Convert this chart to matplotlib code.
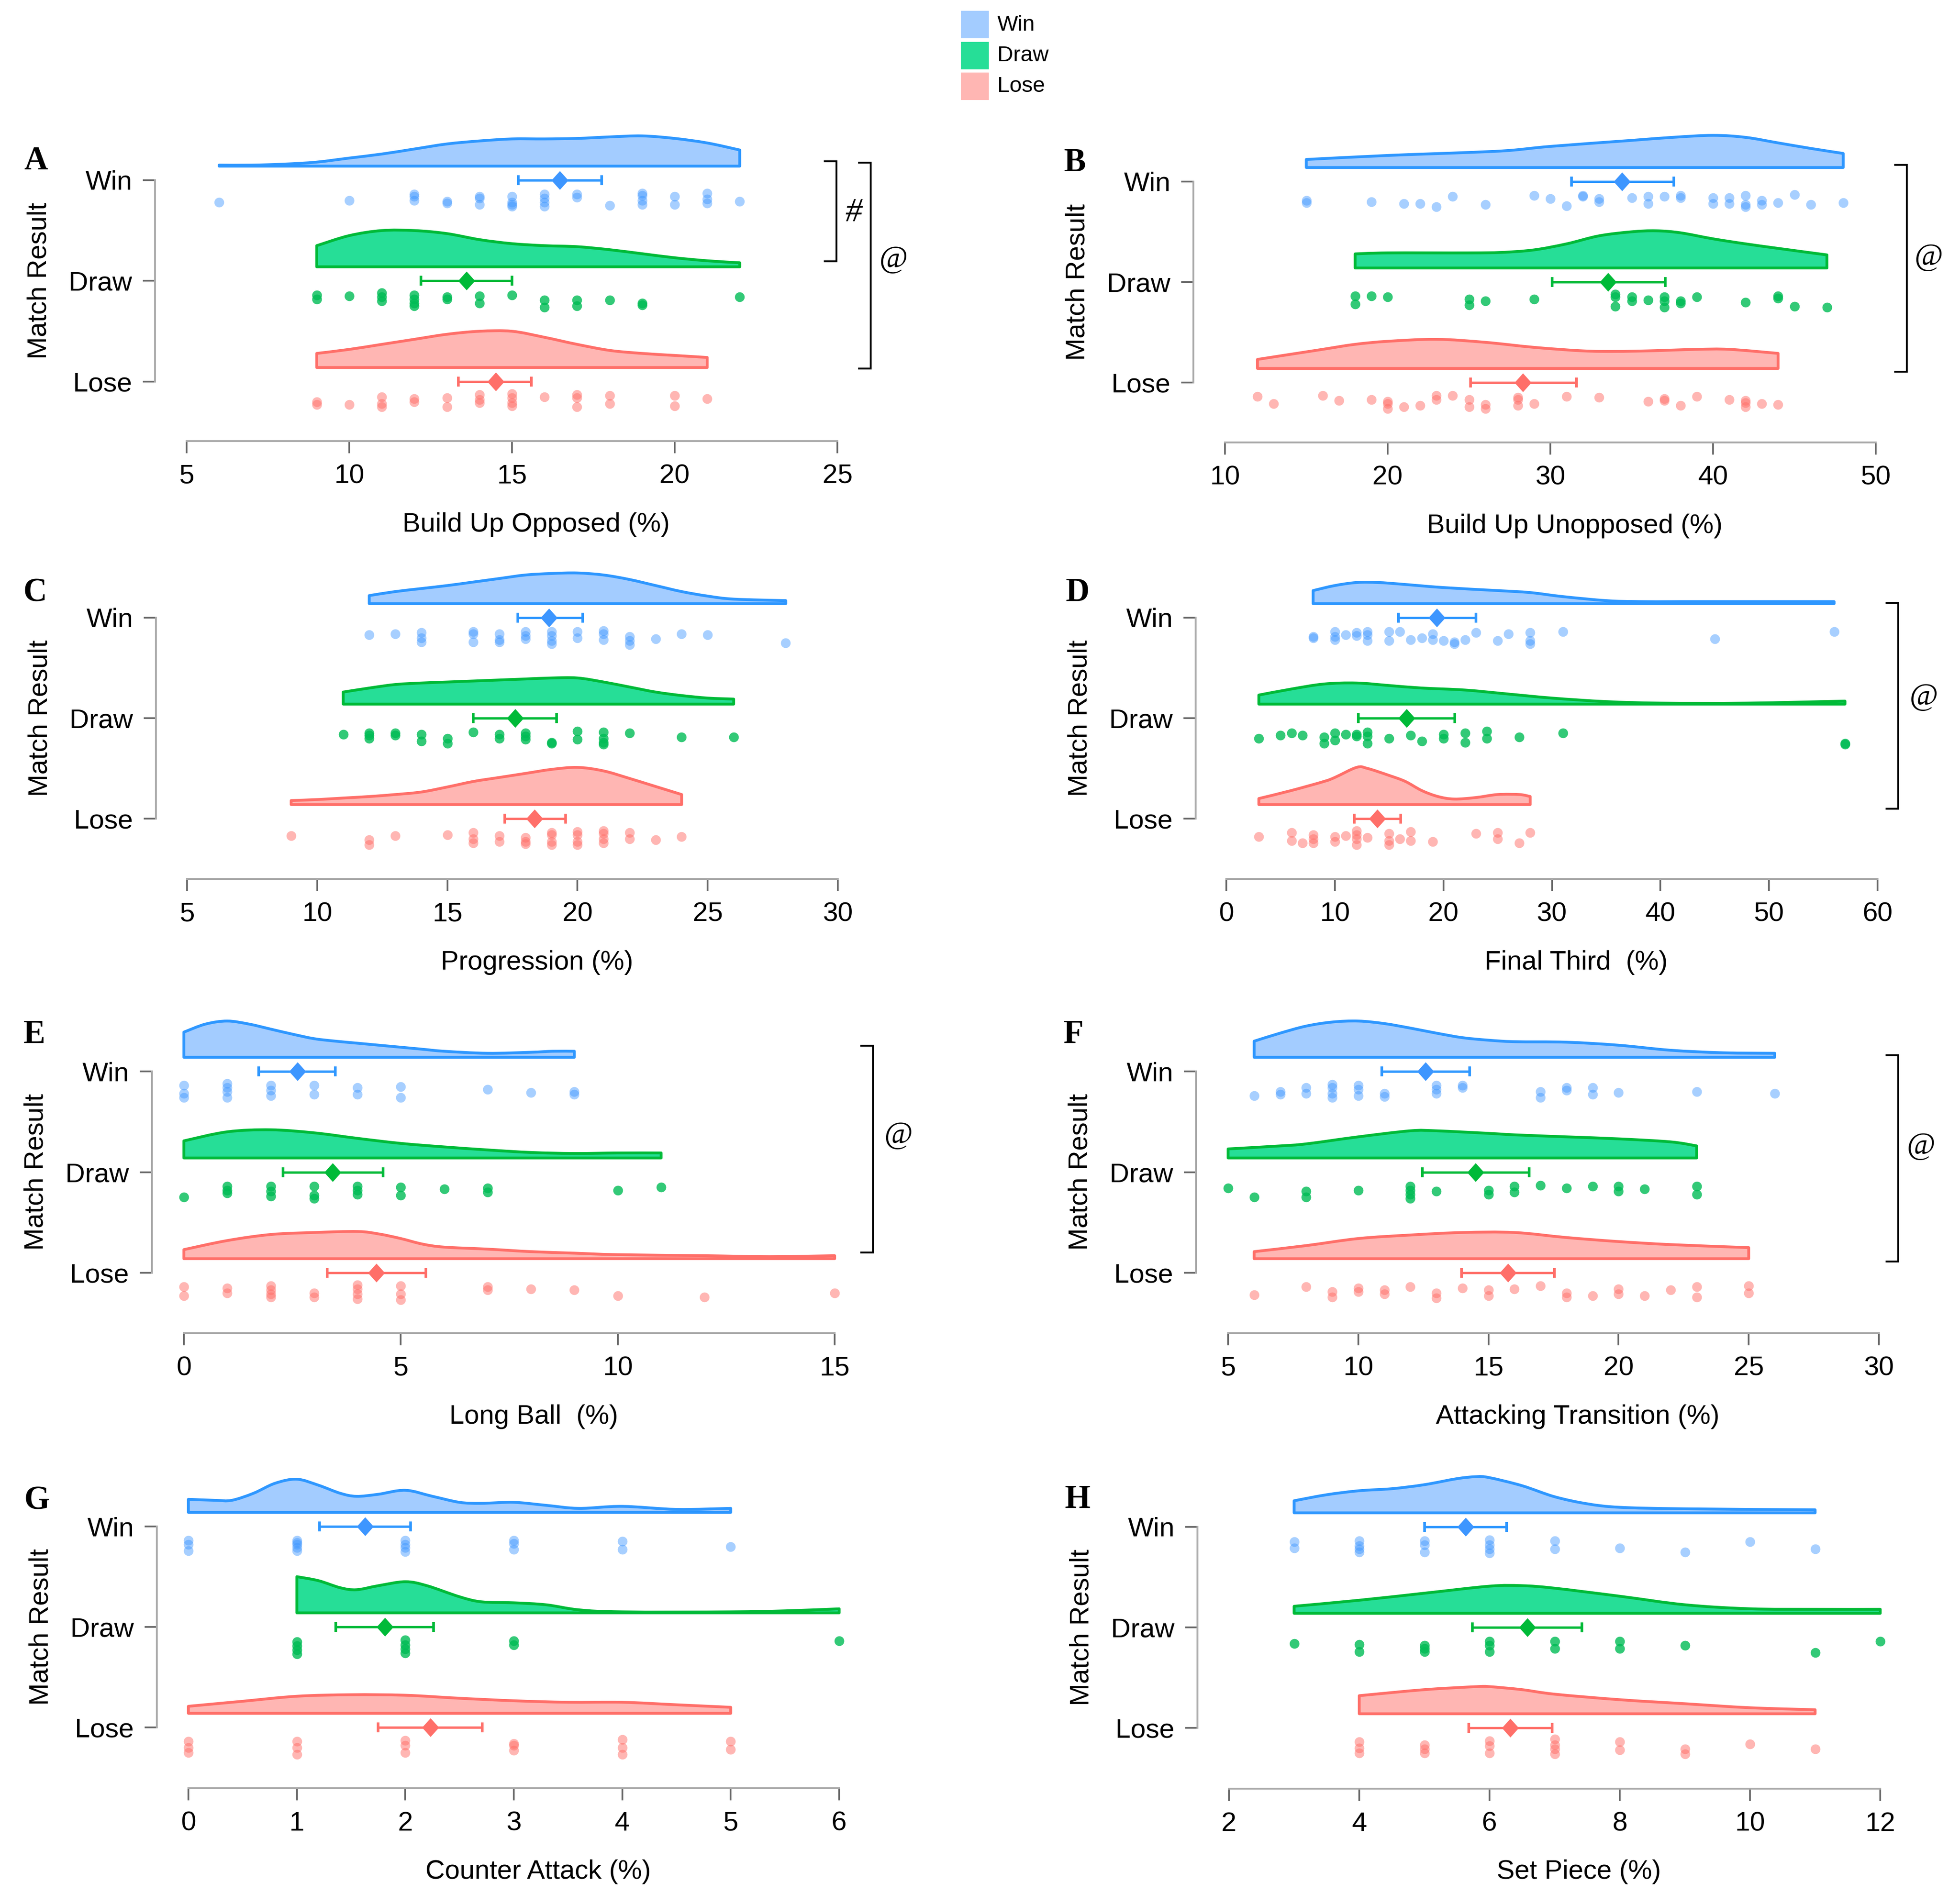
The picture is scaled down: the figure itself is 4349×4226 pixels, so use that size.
import matplotlib
matplotlib.use('Agg')
import matplotlib.pyplot as plt
from matplotlib.lines import Line2D
from matplotlib.patches import PathPatch, Rectangle
from matplotlib.path import Path

W, H = 4349, 4226
plt.rcParams['font.family'] = ['Liberation Sans', 'DejaVu Sans']

groups = ['Win', 'Draw', 'Lose']
fills = ['#A3CCFF', '#26DE97', '#FFB6B3']
lines = ['#2E97FF', '#00BA38', '#FF6F69']
dots = ['#3D96FF', '#00BC55', '#FF6F69']
dot_alpha = [0.45, 0.8, 0.5]

# --- A: Build Up Opposed
A_win_x = [6, 10, 12, 12, 12, 13, 13, 14, 14, 14, 15, 15, 15, 15, 16, 16, 16, 16, 17, 17, 18, 19, 19, 19, 19, 20, 20, 21, 21, 21, 22]
A_win_j = [22, 20, 14, 16, 20, 21, 23, 16, 18, 24, 16, 22, 24, 26, 14, 18, 22, 26, 14, 17, 25, 13, 15, 20, 24, 16, 24, 13, 19, 23, 21]
A_draw_x = [9, 9, 10, 11, 11, 11, 12, 12, 12, 12, 13, 13, 14, 14, 15, 16, 16, 17, 17, 18, 19, 19, 22]
A_draw_j = [14, 18, 15, 12, 16, 20, 14, 18, 22, 25, 16, 18, 15, 22, 14, 19, 26, 19, 25, 19, 22, 24, 16]
A_lose_x = [9, 9, 10, 11, 11, 11, 12, 12, 13, 13, 14, 14, 14, 15, 15, 15, 15, 16, 17, 17, 17, 18, 18, 20, 20, 21]
A_lose_j = [20, 23, 23, 15, 22, 25, 17, 20, 16, 25, 13, 18, 21, 12, 16, 21, 24, 15, 13, 16, 25, 14, 22, 14, 24, 17]
A_win_dx = [6, 7, 8, 9, 10, 11, 12, 13, 14, 15, 16, 17, 18, 19, 20, 21, 22]
A_win_dh = [1, 1, 2, 4, 8, 12, 17, 22, 25, 27, 27, 27.5, 29, 30, 27.5, 23, 16]
A_draw_dx = [9, 10, 11, 12, 13, 14, 15, 16, 17, 18, 19, 20, 21, 22]
A_draw_dh = [21, 31, 36, 36, 33, 27, 23, 21, 20, 17, 13, 9, 6, 4]
A_lose_dx = [9, 10, 11, 12, 13, 14, 15, 16, 17, 18, 19, 20, 21]
A_lose_dh = [14, 18, 23, 28, 33, 36, 36, 30, 23, 17, 14, 12, 10]
A_mean = [16.47, 13.6, 14.5]
A_lo = [15.2, 12.2, 13.35]
A_hi = [17.75, 15.0, 15.6]

# --- B: Build Up Unopposed
B_win_x = [15, 15, 19, 21, 22, 23, 24, 26, 29, 30, 31, 32, 32, 33, 33, 35, 36, 36, 37, 38, 38, 40, 40, 41, 41, 42, 42, 42, 43, 43, 44, 45, 46, 48]
B_win_j = [19, 21, 20, 22, 22, 25, 15, 23, 14, 17, 24, 14, 15, 17, 20, 16, 15, 22, 15, 14, 16, 16, 22, 16, 22, 14, 23, 25, 19, 23, 21, 13, 23, 21]
B_draw_x = [18, 18, 19, 20, 25, 25, 26, 29, 34, 34, 34, 35, 35, 36, 37, 37, 37, 38, 38, 39, 42, 44, 44, 45, 47]
B_draw_j = [14, 22, 14, 15, 17, 23, 19, 17, 12, 15, 24, 15, 19, 18, 15, 19, 25, 19, 21, 15, 20, 14, 16, 24, 25]
B_lose_x = [12, 13, 16, 17, 19, 20, 20, 20, 21, 22, 23, 23, 24, 25, 25, 26, 26, 28, 28, 28, 29, 31, 33, 36, 37, 37, 38, 39, 41, 42, 42, 42, 43, 44]
B_lose_j = [14, 21, 13, 18, 17, 19, 21, 26, 24, 23, 13, 17, 13, 17, 24, 22, 26, 15, 17, 23, 21, 14, 15, 19, 16, 18, 23, 14, 17, 18, 20, 24, 21, 22]
B_win_dx = [15, 20, 25, 27.5, 30, 35, 37.5, 40, 42, 44, 46, 48]
B_win_dh = [8, 12, 15, 17, 21, 27, 30, 32, 30, 24.5, 19, 14]
B_draw_dx = [18, 20, 25, 27, 29, 31, 33, 35, 36.5, 38, 40, 42, 44, 47]
B_draw_dh = [14, 15, 15, 15.5, 18, 24, 32, 36, 37, 35, 29, 24, 19.5, 13]
B_lose_dx = [12, 14, 16, 18, 20, 23, 26, 29, 32, 34, 36, 39, 41, 44]
B_lose_dh = [9, 14, 19, 24, 27, 29, 26, 21, 17.5, 17, 17.5, 19, 19, 15]
B_mean = [34.4, 33.55, 28.3]
B_lo = [31.3, 30.1, 25.1]
B_hi = [37.6, 37.05, 31.6]

# --- C: Progression
C_win_x = [12, 13, 14, 14, 14, 16, 16, 16, 17, 17, 17, 18, 18, 18, 19, 19, 19, 19, 20, 20, 21, 21, 21, 22, 22, 22, 23, 24, 25, 28]
C_win_j = [17, 16, 15, 20, 24, 14, 16, 24, 16, 22, 24, 14, 18, 21, 14, 18, 23, 26, 14, 20, 13, 16, 22, 19, 23, 27, 21, 16, 17, 25]
C_draw_x = [11, 12, 12, 12, 13, 13, 14, 14, 15, 15, 16, 17, 17, 18, 18, 18, 19, 19, 20, 20, 21, 21, 21, 21, 22, 24, 26]
C_draw_j = [16, 15, 17, 20, 15, 17, 16, 23, 20, 25, 14, 16, 20, 15, 18, 21, 24, 25, 13, 21, 14, 20, 24, 26, 15, 19, 19]
C_lose_x = [9, 12, 12, 13, 15, 16, 16, 16, 17, 17, 18, 18, 18, 19, 19, 19, 19, 20, 20, 20, 20, 21, 21, 21, 21, 22, 22, 23, 24]
C_lose_j = [17, 21, 26, 17, 16, 14, 20, 24, 17, 23, 19, 23, 25, 14, 16, 23, 26, 13, 16, 23, 26, 12, 15, 20, 24, 14, 20, 21, 18]
C_win_dx = [12, 13, 14, 15, 16, 17, 18, 19, 20, 21, 22, 23, 24, 25, 26, 28]
C_win_dh = [8, 12, 15, 18, 21.5, 25, 28.5, 30, 30.5, 28.5, 24, 18, 12, 7.5, 4.5, 3]
C_draw_dx = [11, 12, 13, 14, 15, 16, 17, 18, 19, 20, 21, 22, 23, 24, 25, 26]
C_draw_dh = [12, 16, 19.5, 21, 22, 23, 24, 25, 26, 26, 22, 17, 12, 8.5, 6, 5]
C_lose_dx = [9, 10, 11, 12, 13, 14, 15, 16, 17, 18, 19, 20, 21, 22, 23, 24]
C_lose_dh = [4, 5, 6.5, 8, 10, 12.5, 17.5, 23, 27, 31, 35, 37, 33.5, 26, 18, 10]
C_mean = [18.9, 17.6, 18.35]
C_lo = [17.7, 16.0, 17.2]
C_hi = [20.2, 19.2, 19.55]

# --- D: Final Third
D_win_x = [8, 8, 10, 10, 10, 11, 12, 12, 13, 13, 13, 15, 15, 16, 17, 18, 19, 19, 20, 21, 21, 22, 23, 25, 26, 28, 28, 28, 31, 45, 56]
D_win_j = [19, 20, 14, 19, 22, 17, 15, 18, 14, 17, 23, 14, 23, 14, 22, 20, 16, 22, 23, 24, 26, 22, 15, 23, 16, 15, 23, 26, 14, 21, 14]
D_draw_x = [3, 5, 6, 7, 9, 9, 10, 10, 11, 12, 12, 13, 13, 13, 15, 17, 18, 20, 20, 22, 22, 24, 24, 27, 31, 57, 57]
D_draw_j = [20, 17, 15, 17, 19, 25, 15, 22, 16, 16, 18, 14, 18, 25, 20, 17, 23, 16, 20, 15, 24, 13, 20, 19, 15, 25, 26]
D_lose_x = [3, 6, 6, 7, 8, 8, 8, 10, 10, 11, 12, 12, 12, 12, 13, 15, 15, 15, 16, 17, 17, 19, 23, 25, 25, 27, 28]
D_lose_j = [18, 14, 22, 24, 16, 20, 24, 18, 23, 17, 12, 16, 20, 26, 19, 15, 22, 26, 20, 13, 22, 23, 15, 14, 20, 24, 14]
D_win_dx = [8, 10, 12, 14, 16, 20, 25, 28, 31, 35, 38, 42, 50, 56]
D_win_dh = [13, 18, 21, 21, 19.5, 16, 13, 11, 7, 3, 2, 2, 2, 2]
D_draw_dx = [3, 6, 9, 12, 15, 18, 22, 26, 30, 35, 40, 48, 57]
D_draw_dh = [9, 15, 20, 21, 18.5, 16, 14, 10, 6, 2.5, 1, 1, 3]
D_lose_dx = [3, 6, 9, 10, 12, 13, 15, 16.5, 18, 19.5, 21, 23, 25, 27, 28]
D_lose_dh = [6, 14, 23, 27, 37, 36, 29, 23, 14, 8, 5.5, 7, 10, 10, 8]
D_mean = [19.4, 16.6, 13.9]
D_lo = [15.85, 12.15, 11.8]
D_hi = [23.0, 21.05, 16.05]

# --- E: Long Ball
E_win_x = [0, 0, 0, 1, 1, 1, 1, 2, 2, 2, 3, 3, 4, 4, 5, 5, 7, 8, 9, 9]
E_win_j = [14, 22, 26, 12, 16, 20, 26, 14, 19, 24, 14, 23, 16, 23, 15, 26, 18, 21, 20, 23]
E_draw_x = [0, 1, 1, 1, 2, 2, 2, 3, 3, 3, 4, 4, 4, 5, 5, 6, 7, 7, 10, 11]
E_draw_j = [25, 14, 18, 21, 14, 19, 24, 14, 23, 26, 14, 18, 22, 15, 23, 17, 16, 20, 18, 15]
E_lose_x = [0, 0, 1, 1, 2, 2, 2, 2, 3, 3, 4, 4, 4, 4, 5, 5, 5, 7, 7, 8, 9, 10, 12, 15]
E_lose_j = [14, 23, 15, 20, 13, 17, 21, 24, 20, 24, 12, 16, 21, 26, 13, 21, 27, 14, 17, 16, 17, 23, 24, 20]
E_win_dx = [0, 0.5, 1, 1.5, 2, 2.5, 3, 3.5, 4, 4.5, 5, 5.5, 6, 7, 8, 8.5, 9]
E_win_dh = [25, 33, 36, 33, 28, 23, 18.5, 16, 14, 12, 10, 8, 6, 4, 5, 6, 6]
E_draw_dx = [0, 1, 2, 3, 4, 5, 6, 7, 8, 9, 10, 11]
E_draw_dh = [17, 26, 28, 25, 19.5, 14.5, 11, 8, 5.5, 4.5, 5, 5]
E_lose_dx = [0, 1, 2, 3, 4, 4.5, 5, 5.5, 6, 7, 8, 9, 10, 12, 13.5, 15]
E_lose_dh = [9, 18, 24, 26, 27, 24.5, 20, 14.5, 11.5, 9.5, 7, 5.5, 4, 3, 2, 3]
E_mean = [2.62, 3.43, 4.44]
E_lo = [1.72, 2.29, 3.3]
E_hi = [3.49, 4.59, 5.58]

# --- F: Attacking Transition
F_win_x = [6, 7, 7, 8, 8, 9, 9, 9, 9, 10, 10, 10, 11, 11, 13, 13, 13, 14, 14, 17, 17, 18, 18, 19, 19, 20, 23, 26]
F_win_j = [24, 20, 23, 16, 22, 13, 16, 22, 26, 14, 18, 24, 22, 25, 14, 18, 22, 14, 16, 20, 26, 16, 19, 16, 23, 21, 20, 22]
F_draw_x = [5, 6, 8, 8, 10, 12, 12, 12, 12, 13, 15, 15, 16, 16, 17, 18, 19, 20, 20, 21, 23, 23]
F_draw_j = [16, 25, 19, 25, 18, 14, 18, 22, 26, 19, 18, 22, 14, 20, 13, 16, 14, 14, 19, 17, 14, 22]
F_lose_x = [6, 8, 9, 9, 10, 10, 11, 11, 12, 13, 13, 14, 15, 15, 16, 17, 18, 18, 19, 20, 20, 21, 22, 23, 23, 25, 25]
F_lose_j = [22, 14, 19, 24, 15, 19, 17, 21, 14, 20, 25, 15, 17, 23, 16, 13, 20, 24, 23, 16, 21, 23, 17, 14, 24, 13, 20]
F_win_dx = [6, 7, 8, 9, 10, 11, 12, 13, 14, 15, 16, 18, 20, 22, 24, 26]
F_win_dh = [16, 24, 31, 35, 36, 33.5, 29, 24, 19.5, 17, 15.5, 15, 12, 7, 4.5, 4]
F_draw_dx = [5, 7, 8, 10, 12, 13, 15, 16, 18, 20, 22, 23]
F_draw_dh = [9, 12, 14, 21, 27, 27, 24.5, 23, 21, 19, 16, 12]
F_lose_dx = [6, 8, 10, 12, 14, 16, 18, 20, 22, 25]
F_lose_dh = [7, 13, 20, 23.5, 26, 26, 21, 17, 14, 11]
F_mean = [12.58, 14.5, 15.75]
F_lo = [10.9, 12.47, 13.96]
F_hi = [14.28, 16.56, 17.53]

# --- G: Counter Attack
G_win_x = [0, 0, 0, 1, 1, 1, 1, 1, 2, 2, 2, 2, 3, 3, 3, 4, 4, 5]
G_win_j = [14, 18, 24, 14, 16, 18, 21, 24, 14, 18, 21, 25, 14, 17, 23, 15, 23, 20]
G_draw_x = [1, 1, 1, 1, 2, 2, 2, 2, 3, 3, 6]
G_draw_j = [15, 19, 23, 27, 13, 18, 22, 26, 14, 18, 14]
G_lose_x = [0, 0, 0, 1, 1, 1, 2, 2, 2, 3, 3, 3, 4, 4, 4, 5, 5]
G_lose_j = [14, 20, 25, 14, 20, 27, 13, 18, 25, 16, 18, 23, 12, 20, 27, 14, 22]
G_win_dx = [0, 0.25, 0.4, 0.6, 0.8, 1, 1.2, 1.4, 1.55, 1.75, 2, 2.25, 2.5, 2.7, 3, 3.3, 3.6, 4, 4.5, 5]
G_win_dh = [13, 12, 12, 19, 29, 33, 27, 19, 16, 18, 22, 16, 10, 9, 10, 7, 4, 6, 3, 4]
G_draw_dx = [1, 1.2, 1.4, 1.55, 1.75, 2, 2.2, 2.5, 2.7, 3, 3.3, 3.6, 4, 5, 5.5, 6]
G_draw_dh = [36, 32, 25, 23, 27, 31, 27, 16, 11, 10, 8, 3, 1, 1, 2, 4]
G_lose_dx = [0, 0.5, 1, 1.5, 2, 2.5, 3, 3.5, 4, 4.5, 5]
G_lose_dh = [7, 12, 17, 18.5, 18, 15, 12.5, 11, 11, 8.5, 6]
G_mean = [1.63, 1.81, 2.23]
G_lo = [1.21, 1.36, 1.75]
G_hi = [2.05, 2.26, 2.71]

# --- H: Set Piece
H_win_x = [3, 3, 4, 4, 4, 4, 5, 5, 5, 6, 6, 6, 6, 7, 7, 8, 9, 10, 11]
H_win_j = [15, 21, 14, 19, 22, 25, 14, 18, 25, 13, 18, 22, 26, 14, 22, 21, 25, 15, 22]
H_draw_x = [3, 4, 4, 5, 5, 5, 6, 6, 6, 7, 7, 8, 8, 9, 11, 12]
H_draw_j = [16, 17, 24, 18, 21, 24, 14, 18, 24, 14, 21, 14, 21, 18, 25, 14]
H_lose_x = [4, 4, 4, 5, 5, 5, 6, 6, 6, 7, 7, 7, 7, 8, 8, 9, 9, 10, 11]
H_lose_j = [14, 20, 25, 17, 21, 25, 13, 18, 25, 11, 17, 21, 26, 14, 22, 21, 26, 16, 21]
H_win_dx = [3, 3.5, 4, 4.5, 5, 5.5, 5.8, 6, 6.5, 7, 7.5, 8, 9, 11]
H_win_dh = [12, 18, 22, 24, 28, 34, 36, 35, 27, 16, 9, 5.5, 4, 3]
H_draw_dx = [3, 4, 5, 6, 6.5, 7, 8, 9, 10, 11, 12]
H_draw_dh = [7, 13, 20, 27, 27.5, 25, 17, 8.5, 4.5, 4, 4]
H_lose_dx = [4, 5, 5.8, 6, 6.5, 7, 8, 9, 10, 11]
H_lose_dh = [18, 24, 27, 27, 24, 19.5, 14, 10, 6, 4]
H_mean = [5.63, 6.58, 6.32]
H_lo = [5.0, 5.74, 5.68]
H_hi = [6.26, 7.42, 6.96]

titles = ['Build Up Opposed (%)', 'Build Up Unopposed (%)', 'Progression (%)', 'Final Third  (%)',
          'Long Ball  (%)', 'Attacking Transition (%)', 'Counter Attack (%)', 'Set Piece (%)']
xticks = [[5, 10, 15, 20, 25], [10, 20, 30, 40, 50], [5, 10, 15, 20, 25, 30], [0, 10, 20, 30, 40, 50, 60],
          [0, 5, 10, 15], [5, 10, 15, 20, 25, 30], [0, 1, 2, 3, 4, 5, 6], [2, 4, 6, 8, 10, 12]]

# per panel: letter, left tick px, right tick px, win tick px, lose tick px, x axis px, y spine px, letter pos
layout = [
    ('A', 414, 1858, 400, 847, 979, 344, 80, 358),
    ('B', 2718, 4162, 403, 849, 982, 2648, 2385, 362),
    ('C', 415, 1859, 1371, 1817, 1951, 346, 78, 1316),
    ('D', 2721, 4166, 1371, 1817, 1951, 2653, 2391, 1316),
    ('E', 408, 1852, 2378, 2825, 2959, 337, 76, 2297),
    ('F', 2725, 4169, 2378, 2825, 2959, 2654, 2382, 2297),
    ('G', 418, 1862, 3388, 3834, 3969, 348, 82, 3332),
    ('H', 2727, 4172, 3389, 3835, 3970, 2657, 2391, 3329),
]

# bracket x, top, bottom, symbol, symbol x, symbol y, symbol size
brackets = [
    (1856, 358, 580, '#', 1894, 473, 18),
    (1932, 361, 818, '@', 1983, 577, 16.5),
    (4231, 366, 825, '@', 4280, 572, 16.5),
    (4212, 1338, 1795, '@', 4269, 1548, 16.5),
    (1937, 2321, 2780, '@', 1994, 2521, 16.5),
    (4212, 2342, 2800, '@', 4263, 2545, 16.5),
]

legend_y = [24, 93, 161]


def fx(px):
    return px / W


def fy(py):
    return 1 - py / H


def curve_path(xs, hs, base):
    # smooth line through the values, closed along the baseline
    pts = [(x, base + h / 100) for x, h in zip(xs, hs)]
    verts = [(xs[0], base), pts[0]]
    codes = [Path.MOVETO, Path.LINETO]
    for i in range(len(pts) - 1):
        p0 = pts[max(i - 1, 0)]
        p1 = pts[i]
        p2 = pts[i + 1]
        p3 = pts[min(i + 2, len(pts) - 1)]
        c1 = (p1[0] + (p2[0] - p0[0]) / 6, p1[1] + (p2[1] - p0[1]) / 6)
        c2 = (p2[0] - (p3[0] - p1[0]) / 6, p2[1] - (p3[1] - p1[1]) / 6)
        verts += [c1, c2, p2]
        codes += [Path.CURVE4] * 3
    verts += [(xs[-1], base), (xs[0], base)]
    codes += [Path.LINETO, Path.CLOSEPOLY]
    return Path(verts, codes)


def draw_panel(fig, idx, series, mean, lo, hi):
    letter, x0, x1, win, lose, axis, spine, lx, ly = layout[idx]
    unit = (lose - win) / 2
    top = win - 140
    ax = fig.add_axes([fx(x0), fy(axis), (x1 - x0) / W, (axis - top) / H])
    ticks = xticks[idx]
    ax.set_xlim(ticks[0], ticks[-1])
    ax.set_ylim(1 - (axis - lose) / unit, 3 + (win - top) / unit)
    ax.patch.set_alpha(0)

    for i, (x, j, dx, dh) in enumerate(series):
        y = 3 - i
        ax.add_patch(PathPatch(curve_path(dx, dh, y + 0.14), facecolor=fills[i], edgecolor=lines[i],
                               lw=1.5, joinstyle='round', clip_on=False, zorder=2))
        ax.errorbar(mean[i], y, xerr=[[mean[i] - lo[i]], [hi[i] - mean[i]]], color=lines[i], lw=1.25,
                    capsize=2.7, capthick=1.4, clip_on=False, zorder=3)
        ax.plot(mean[i], y, marker=[(0, 1), (0.9, 0), (0, -1), (-0.9, 0)], ms=10, color=dots[i] if i != 1 else lines[i],
                mew=0, clip_on=False, zorder=4)
        ax.scatter(x, [y - v / 100 for v in j], s=27, color=dots[i], alpha=dot_alpha[i], lw=0,
                   clip_on=False, zorder=3)

    for s in ['top', 'right']:
        ax.spines[s].set_visible(False)
    ax.spines['left'].set_position(('outward', (x0 - spine) * 72 / 300))
    ax.spines['left'].set_bounds(1, 3)
    ax.spines['bottom'].set_bounds(ticks[0], ticks[-1])
    for s in ['left', 'bottom']:
        ax.spines[s].set_color('#aaaaaa')
        ax.spines[s].set_linewidth(1.0)
    ax.set_xticks(ticks)
    ax.set_yticks([3, 2, 1])
    ax.set_yticklabels(groups)
    ax.tick_params(axis='both', length=6.5, width=0.9, color='#666666', labelsize=14.5)
    ax.tick_params(axis='x', pad=5.7)
    ax.tick_params(axis='y', pad=5.7)

    draw_y = (win + lose) / 2
    fig.text(fx(spine - 257), fy(draw_y), 'Match Result', rotation=90, ha='center', va='center', fontsize=14.3)
    fig.text(fx((x0 + x1) / 2 + 54), fy(axis + 185), titles[idx], ha='center', va='center', fontsize=14.3)
    fig.text(fx(lx), fy(ly), letter, ha='center', va='center', fontsize=17.5, fontweight='bold',
             family='Liberation Serif')


fig = plt.figure(figsize=(W / 300, H / 300), dpi=300, facecolor='white')

draw_panel(fig, 0, [(A_win_x, A_win_j, A_win_dx, A_win_dh), (A_draw_x, A_draw_j, A_draw_dx, A_draw_dh),
                    (A_lose_x, A_lose_j, A_lose_dx, A_lose_dh)], A_mean, A_lo, A_hi)
draw_panel(fig, 1, [(B_win_x, B_win_j, B_win_dx, B_win_dh), (B_draw_x, B_draw_j, B_draw_dx, B_draw_dh),
                    (B_lose_x, B_lose_j, B_lose_dx, B_lose_dh)], B_mean, B_lo, B_hi)
draw_panel(fig, 2, [(C_win_x, C_win_j, C_win_dx, C_win_dh), (C_draw_x, C_draw_j, C_draw_dx, C_draw_dh),
                    (C_lose_x, C_lose_j, C_lose_dx, C_lose_dh)], C_mean, C_lo, C_hi)
draw_panel(fig, 3, [(D_win_x, D_win_j, D_win_dx, D_win_dh), (D_draw_x, D_draw_j, D_draw_dx, D_draw_dh),
                    (D_lose_x, D_lose_j, D_lose_dx, D_lose_dh)], D_mean, D_lo, D_hi)
draw_panel(fig, 4, [(E_win_x, E_win_j, E_win_dx, E_win_dh), (E_draw_x, E_draw_j, E_draw_dx, E_draw_dh),
                    (E_lose_x, E_lose_j, E_lose_dx, E_lose_dh)], E_mean, E_lo, E_hi)
draw_panel(fig, 5, [(F_win_x, F_win_j, F_win_dx, F_win_dh), (F_draw_x, F_draw_j, F_draw_dx, F_draw_dh),
                    (F_lose_x, F_lose_j, F_lose_dx, F_lose_dh)], F_mean, F_lo, F_hi)
draw_panel(fig, 6, [(G_win_x, G_win_j, G_win_dx, G_win_dh), (G_draw_x, G_draw_j, G_draw_dx, G_draw_dh),
                    (G_lose_x, G_lose_j, G_lose_dx, G_lose_dh)], G_mean, G_lo, G_hi)
draw_panel(fig, 7, [(H_win_x, H_win_j, H_win_dx, H_win_dh), (H_draw_x, H_draw_j, H_draw_dx, H_draw_dh),
                    (H_lose_x, H_lose_j, H_lose_dx, H_lose_dh)], H_mean, H_lo, H_hi)

# significance brackets
for bx, b_top, b_bot, sym, sx, sy, size in brackets:
    fig.add_artist(Line2D([fx(bx - 26), fx(bx), fx(bx), fx(bx - 26)], [fy(b_top), fy(b_top), fy(b_bot), fy(b_bot)],
                          color='black', lw=1.0, solid_joinstyle='miter'))
    fig.text(fx(sx), fy(sy), sym, ha='center', va='center', fontsize=size, style='italic', family='Liberation Serif')

# legend squares and labels
for name, color, ly in zip(groups, fills, legend_y):
    fig.add_artist(Rectangle((fx(2132), fy(ly + 61)), 62 / W, 61 / H, transform=fig.transFigure, facecolor=color,
                             edgecolor='none'))
    fig.text(fx(2213), fy(ly + 31), name, ha='left', va='center', fontsize=11.7)

fig.savefig('out.png', dpi=300)
